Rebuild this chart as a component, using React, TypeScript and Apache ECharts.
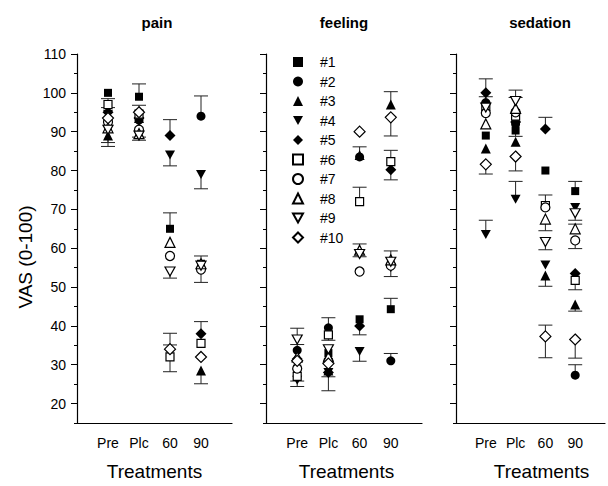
import { useEffect, useRef } from 'react';
import * as echarts from 'echarts';

const categories = ['Pre', 'Plc', '60', '90'];
const subjects = ['#1', '#2', '#3', '#4', '#5', '#6', '#7', '#8', '#9', '#10'];
const panelTitles = ['pain', 'feeling', 'sedation'];
const yTickValues = [20, 30, 40, 50, 60, 70, 80, 90, 100, 110];

// values per subject (#1..#10) at Pre, Plc, 60, 90
const painValues = [
  [100, 99, 65, 56],
  [93, 93, 58, 94],
  [89, 93.5, 61.5, 28.5],
  [94.5, 92.5, 84, 79],
  [95, 93.5, 89, 38],
  [97, 94.5, 32, 35.5],
  [92.5, 90.5, 58, 54.5],
  [91, 89.5, 61.5, 56],
  [90.5, 89, 54, 55.5],
  [93.5, 95, 34, 32],
];
const feelingValues = [
  [29, 33, 41.7, 44.3],
  [33.7, 39.5, 83.5, 31],
  [30, 28.5, 84, 97],
  [26, 28, 33.4, 55],
  [31.5, 28, 40, 80.2],
  [27, 37.7, 72, 82.3],
  [29, 31, 54, 55.5],
  [32, 32, 59.5, 57],
  [36.5, 34, 58.5, 56.5],
  [31, 30.3, 90, 93.7],
];
const sedationValues = [
  [89, 90.3, 80, 74.7],
  [97.5, 92, 70.5, 27.3],
  [85.7, 87.4, 53, 45.5],
  [63.5, 72.6, 55.7, 70.5],
  [100, 92.5, 90.7, 53.5],
  [96.5, 94, 71, 51.7],
  [94.8, 95, 70.5, 62],
  [92, 96, 67.5, 65],
  [96.2, 97.9, 61.6, 69],
  [81.6, 83.6, 37.3, 36.5],
];

// error bars: [treatment position, from value, cap value]
const painErrors = [
  [1, 97, 98.5], [1, 95, 96.2], [1, 90, 87.2], [1, 89, 86.2],
  [2, 99, 102.3], [2, 95, 96.8], [2, 90.5, 88.6], [2, 89, 87.8],
  [3, 89, 93.1], [3, 84, 81.2], [3, 65, 69.1], [3, 54, 52.3], [3, 34, 38.1], [3, 34, 35.1], [3, 32, 28.2],
  [4, 94, 99.2], [4, 79, 75.3], [4, 56, 58], [4, 55, 51.2], [4, 38, 41.1], [4, 28.5, 25.1],
];
const feelingErrors = [
  [1, 36.5, 39.4], [1, 33.7, 35.2], [1, 27, 25.8], [1, 26, 24.4],
  [2, 39.5, 42.1], [2, 37.7, 36.3], [2, 28, 26.9], [2, 28, 23.3],
  [3, 84, 86.1], [3, 72, 75.7], [3, 59.5, 61.1], [3, 58.5, 57.8], [3, 40, 37.7], [3, 33.4, 30.9],
  [4, 97, 100.3], [4, 93.7, 88.9], [4, 82.3, 85.2], [4, 80.2, 77.6], [4, 57, 59.3], [4, 56.5, 52.7], [4, 44.3, 47.1], [4, 31, 32.9],
];
const sedationErrors = [
  [1, 100, 103.6], [1, 97.5, 99], [1, 81.6, 79.1], [1, 63.5, 67.2],
  [2, 97.9, 100.7], [2, 96, 98.8], [2, 90.3, 88.8], [2, 83.6, 79.9], [2, 72.6, 77.2],
  [3, 90.7, 93.7], [3, 71, 73.7], [3, 67.5, 64.5], [3, 61.6, 59.6], [3, 53, 50.2], [3, 37.3, 40.2], [3, 37.3, 31.8],
  [4, 74.7, 77.2], [4, 69, 67.2], [4, 65, 66.2], [4, 62, 59.9], [4, 51.7, 49.3], [4, 45.5, 43.8], [4, 36.5, 31.7], [4, 27.3, 30],
];

const FONT = 'Liberation Sans, Arial, Helvetica, sans-serif';
const DOWN_TRI = 'path://M0,0L10,0L5,9Z';
const symbols = ['rect', 'circle', 'triangle', DOWN_TRI, 'diamond', 'rect', 'circle', 'triangle', DOWN_TRI, 'diamond'];
const symbolSizes = [8, 9, 10, [10, 9], 11, 8, 9, 10, [10, 9], 11];

export default function App() {
  const ref = useRef<HTMLDivElement>(null);
  useEffect(() => {
    document.body.style.margin = '0';
    if (!ref.current) return;
    const chart = echarts.init(ref.current, null, { renderer: 'svg' });

    const panels = [painValues, feelingValues, sedationValues];
    const errors = [painErrors, feelingErrors, sedationErrors];
    const grids = [
      { left: 77, top: 54, width: 155, height: 375 },
      { left: 266, top: 54, width: 156, height: 375 },
      { left: 456, top: 54, width: 154, height: 375 },
    ];
    const titlePos = [157, 344, 540];

    const xAxis: any[] = [];
    const yAxis: any[] = [];
    const series: any[] = [];

    panels.forEach((vals, p) => {
      xAxis.push({
        type: 'value', gridIndex: p, position: 'bottom', min: 0, max: 5, interval: 1,
        axisLine: { show: true, lineStyle: { color: '#000', width: 1.2 } },
        axisTick: { show: false },
        splitLine: { show: false },
        axisLabel: {
          margin: 13, fontSize: 14, color: '#000', fontFamily: FONT,
          formatter: (v: number) => (v >= 1 && v <= 4 ? categories[v - 1] : ''),
        },
        name: 'Treatments', nameLocation: 'middle', nameGap: 39,
        nameTextStyle: {
          fontSize: 19, color: '#000', fontFamily: FONT,
          padding: p === 2 ? [0, 0, 0, 22] : p === 1 ? [0, 0, 0, 5] : 0,
        },
      });
      yAxis.push({
        type: 'value', gridIndex: p, position: 'left', min: 15, max: 110, interval: 5,
        axisLine: { show: true, onZero: false, lineStyle: { color: '#000', width: 1.2 } },
        axisTick: { show: true, inside: false, length: 3, lineStyle: { color: '#000' } },
        axisLabel: { show: false },
        splitLine: { show: false },
      });
      yAxis.push({
        type: 'value', gridIndex: p, position: 'left', offset: 0, min: 15, max: 110,
        axisLine: { show: false, onZero: false },
        axisTick: { show: true, length: 6, customValues: yTickValues, lineStyle: { color: '#000' } },
        axisLabel: {
          show: p === 0, customValues: yTickValues, margin: 11,
          fontSize: 14, color: '#000', fontFamily: FONT,
        },
        splitLine: { show: false },
      });

      series.push({
        type: 'custom', xAxisIndex: p, yAxisIndex: p * 2, z: 1,
        data: errors[p],
        encode: { x: 0, y: [1, 2] },
        renderItem: (_params: any, api: any) => {
          const x = api.value(0);
          const a = api.coord([x, api.value(1)]);
          const b = api.coord([x, api.value(2)]);
          return {
            type: 'group',
            children: [
              { type: 'line', shape: { x1: a[0], y1: a[1], x2: b[0], y2: b[1] }, style: { stroke: '#222', lineWidth: 1 } },
              { type: 'line', shape: { x1: b[0] - 7, y1: b[1], x2: b[0] + 7, y2: b[1] }, style: { stroke: '#222', lineWidth: 1 } },
            ],
          };
        },
      });

      vals.forEach((row, s) => {
        const open = s >= 5;
        series.push({
          type: 'scatter', name: subjects[s], xAxisIndex: p, yAxisIndex: p * 2, z: 2,
          symbol: symbols[s], symbolSize: symbolSizes[s],
          itemStyle: open
            ? { color: '#fff', borderColor: '#000', borderWidth: 1.2, opacity: 1 }
            : { color: '#000', borderColor: '#000', borderWidth: 0, opacity: 1 },
          emphasis: { disabled: true },
          data: row.map((v, i) => [i + 1, v]),
        });
      });
    });

    const graphic: any[] = panelTitles.map((t, i) => ({
      type: 'text', x: titlePos[i], y: 22,
      style: { text: t, fill: '#000', font: `bold 15px ${FONT}`, textAlign: 'center', textVerticalAlign: 'middle' },
    }));
    graphic.push({
      type: 'text', x: 25, y: 257, rotation: Math.PI / 2,
      style: { text: 'VAS (0-100)', fill: '#000', font: `19px ${FONT}`, textAlign: 'center', textVerticalAlign: 'middle' },
    });

    chart.setOption({
      animation: false,
      backgroundColor: '#fff',
      grid: grids,
      xAxis,
      yAxis,
      series,
      graphic,
      legend: {
        data: subjects, orient: 'vertical', left: 292, top: 55, padding: 0,
        itemWidth: 10, itemHeight: 10, itemGap: 5.5, selectedMode: false,
        textStyle: { fontSize: 14, color: '#000', fontFamily: FONT, padding: [0, 0, 0, 12] },
      },
    });
    return () => chart.dispose();
  }, []);
  return <div ref={ref} style={{ width: 608, height: 486 }} />;
}
